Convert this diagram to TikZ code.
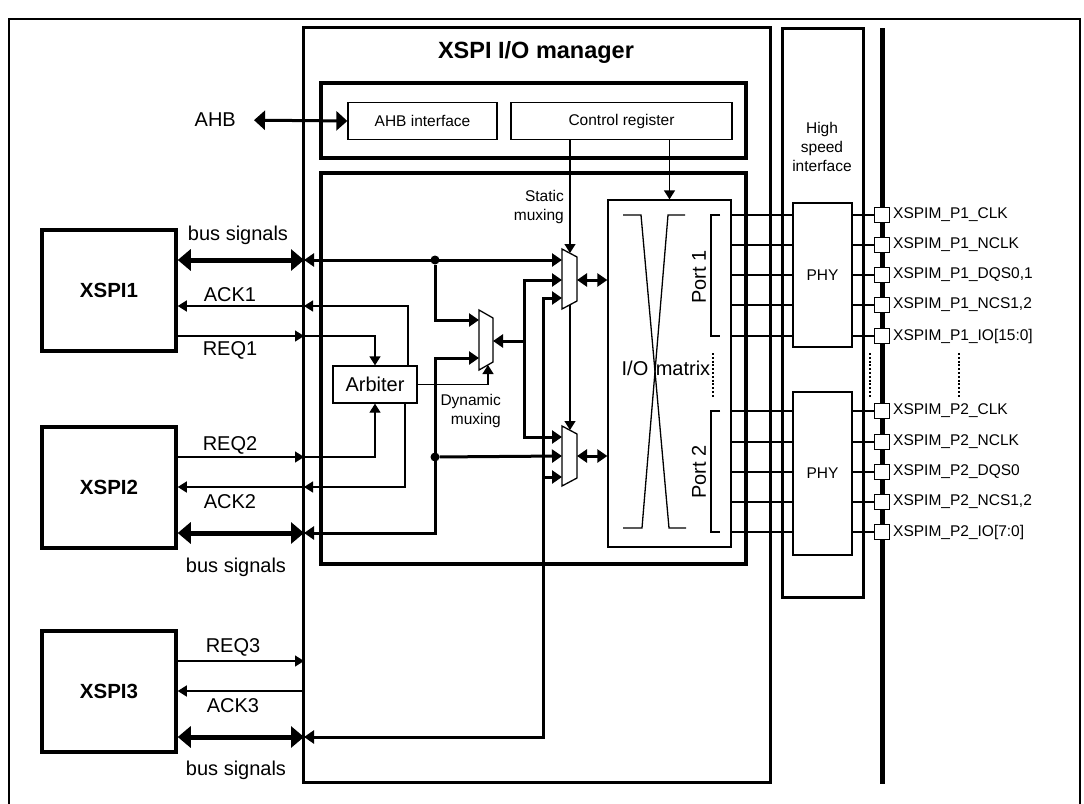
\documentclass[tikz,border=0pt]{standalone}
\usepackage{fontspec}
\setmainfont{Liberation Sans}
\usetikzlibrary{arrows.meta,positioning,calc}

\begin{document}
\begin{tikzpicture}[x=1pt,y=-1pt,
	big/.style={font=\fontsize{20}{22}\selectfont,inner sep=1pt},
	small/.style={font=\fontsize{15.5}{19}\selectfont,inner sep=1pt,align=center},
	thinbox/.style={draw,line width=1.3pt,inner sep=0pt},
	thickbox/.style={draw,line width=3pt,inner sep=0pt},
	xspi/.style={draw,line width=3.5pt,minimum width=134pt,minimum height=121pt,font=\bfseries\fontsize{20.5}{22}\selectfont},
	sig/.style={line width=1.3pt,-{Triangle[length=9pt,width=11pt]}},
	ibus/.style={line width=3pt,-{Triangle[length=10pt,width=13pt]}},
	ibus2/.style={line width=3pt,{Triangle[length=10pt,width=13pt]}-{Triangle[length=10pt,width=13pt]}},
	bus/.style={line width=5pt,{Triangle[length=13pt,width=21pt]}-{Triangle[length=13pt,width=21pt]}},
	mux/.style={draw,line width=1.3pt,fill=white},
	pad/.style={draw,line width=1.3pt,fill=white,minimum size=15pt,inner sep=0pt},
	pin/.style={line width=1.3pt},
	dots/.style={line width=2.5pt,dash pattern=on 2pt off 1.8pt},
	jn/.style={circle,fill,inner sep=0pt,minimum size=9pt}]
\useasboundingbox (0,0) rectangle (1084,803);
\draw[line width=1.8pt] (9,815) -- (9,19) -- (1080,19) -- (1080,815);

% manager and its blocks
\node[thickbox,minimum width=467pt,minimum height=755pt] (mgr) at (536.5,404.5) {};
\node[font=\bfseries\fontsize{23.5}{26}\selectfont] (mgrt) at (536,52) {XSPI I/O manager};
\node[draw,line width=4pt,minimum width=425pt,minimum height=75pt] (cfg) at (533.5,120.5) {};
\node[draw,line width=4pt,minimum width=425pt,minimum height=391pt] (core) at (533.5,368.5) {};
\node[thinbox,small,minimum width=149pt,minimum height=37pt] (ahbif) at (422.5,121) {AHB interface};
\node[thinbox,small,minimum width=221pt,minimum height=37pt] (creg) at (621.5,121) {Control register};
\node[big,anchor=east] (ahb) at (237,120) {AHB};
\draw[line width=3pt,{Triangle[length=11pt,width=19pt]}-{Triangle[length=11pt,width=19pt]},shorten <=17pt] (ahb.east) -- (ahbif.west);

\node[thickbox,minimum width=81pt,minimum height=569pt] (hsi) at (822.5,312.5) {};
\node[small] (hsit) at (822,147) {High\\speed\\interface};
\node[thinbox,small,minimum width=59pt,minimum height=144pt] (phy1) at (822.5,275) {PHY};
\node[thinbox,small,minimum width=59pt,minimum height=163pt] (phy2) at (822.5,473.5) {PHY};
\coordinate (railt) at (882,28);
\coordinate (railb) at (882,784);
\draw[line width=5pt] (railt) -- (railb);

% XSPI instances
\node[xspi] (xspi1) at (109,290.5) {XSPI1};
\node[xspi] (xspi2) at (109,487.5) {XSPI2};
\node[xspi] (xspi3) at (109,691.5) {XSPI3};
\coordinate (bus1) at (304,260);
\coordinate (ack1) at (304,306);
\coordinate (req1) at (304,336);
\coordinate (req2) at (304,457);
\coordinate (ack2) at (304,487);
\coordinate (bus2) at (304,533);
\coordinate (req3) at (304,661);
\coordinate (ack3) at (304,691);
\coordinate (bus3) at (304,737);

\draw[bus] (xspi1.east |- bus1) -- (bus1);
\draw[sig] (ack1) -- (xspi1.east |- ack1);
\draw[sig] (xspi1.east |- req1) -- (req1);
\draw[sig] (xspi2.east |- req2) -- (req2);
\draw[sig] (ack2) -- (xspi2.east |- ack2);
\draw[bus] (xspi2.east |- bus2) -- (bus2);
\draw[sig] (xspi3.east |- req3) -- (req3);
\draw[sig] (ack3) -- (xspi3.east |- ack3);
\draw[bus] (xspi3.east |- bus3) -- (bus3);

\node[big] (lbus1) at (238,235) {bus signals};
\node[big] (lack1) at (230,295) {ACK1};
\node[big] (lreq1) at (230,350) {REQ1};
\node[big] (lreq2) at (230,445) {REQ2};
\node[big] (lack2) at (230,502) {ACK2};
\node[big] (lbus2) at (236,567) {bus signals};
\node[big] (lreq3) at (233,647) {REQ3};
\node[big] (lack3) at (233,706) {ACK3};
\node[big] (lbus3) at (236,770) {bus signals};

% arbiter
\node[thinbox,big,minimum width=84pt,minimum height=37pt] (arb) at (375,384.5) {Arbiter};
\coordinate (arbA) at (408,366);
\coordinate (arbB) at (405,403);
\draw[sig] (req1) -| (arb.north);
\draw[sig] (arbA) |- (ack1);
\draw[sig] (req2) -| (arb.south);
\draw[sig] (arbB) |- (ack2);

% dynamic mux
\draw[mux] (479,310) -- (493,318) -- (493,362) -- (479,370) -- cycle;
\coordinate (dmi1) at (479,320);
\coordinate (dmi2) at (479,358);
\coordinate (dmo) at (493,341);
\coordinate (dms) at (488,365);
\node[small,align=right,anchor=east] (dyn) at (502,411) {Dynamic\\muxing};

% static muxes
\draw[mux] (562,249) -- (577,257) -- (577,301) -- (562,309) -- cycle;
\draw[mux] (562,426) -- (577,434) -- (577,478) -- (562,486) -- cycle;
\coordinate (m1i1) at (562,260);
\coordinate (m1i2) at (562,280);
\coordinate (m1i3) at (562,298);
\coordinate (m1o) at (577,280);
\coordinate (m1s) at (570,253);
\coordinate (m1b) at (570,305);
\coordinate (m2i1) at (562,437);
\coordinate (m2i2) at (562,456);
\coordinate (m2i3) at (562,477);
\coordinate (m2o) at (577,456);
\coordinate (m2s) at (570,430);
\node[small,align=right,anchor=east] (stat) at (565,207) {Static\\muxing};

% bus routing
\node[jn] (j1) at (435,260) {};
\node[jn] (j2) at (435,457) {};
\coordinate (k1) at (524,280);
\coordinate (k2) at (435,358);
\coordinate (k3) at (543,298);
\draw[ibus2] (bus1) -- (m1i1);
\draw[ibus] (j1) |- (dmi1);
\draw[ibus2] (bus2) -| (k2) -- (dmi2);
\draw[ibus] (j2) -- (m2i2);
\draw[ibus2] (bus3) -| (k3) -- (m1i3);
\draw[ibus] (m2i3 -| k3) -- (m2i3);
\draw[ibus2] (m1i2) -- (k1) |- (m2i1);
\draw[ibus] (dmo -| k1) -- (dmo);
\draw[sig] (arb.east) -| (dms);
\draw[sig] (creg.south -| m1s) -- (m1s);
\draw[sig] (m1b) -- (m2s);

% I/O matrix
\node[thinbox,minimum width=123pt,minimum height=347pt] (iom) at (669.5,373.5) {};
\draw[sig] (creg.south -| iom.north) -- (iom.north);
\draw[ibus2] (m1o) -- (m1o -| iom.west);
\draw[ibus2] (m2o) -- (m2o -| iom.west);
\draw[pin] (623,215) -- (641,215) -- (669,528) -- (686,528);
\draw[pin] (685,215) -- (668,215) -- (642,528) -- (623,528);
\node[big] (iot) at (635,368) {I/O};
\node[big] (mxt) at (683,368) {matrix};
\draw[pin] (720,215) -| (711,336) -- (720,336);
\draw[pin] (720,411) -| (711,532) -- (720,532);
\node[big,rotate=90] (p1) at (699,277) {Port 1};
\node[big,rotate=90] (p2) at (699,472) {Port 2};

% pins
\foreach \y/\t in {215/{XSPIM\_P1\_CLK},245/{XSPIM\_P1\_NCLK},275/{XSPIM\_P1\_DQS0,1},305/{XSPIM\_P1\_NCS1,2},336/{XSPIM\_P1\_IO[15:0]}}{
	\node[pad] (pad\y) at (882,\y) {};
	\draw[pin] (iom.east |- pad\y) -- (phy1.west |- pad\y);
	\draw[pin] (phy1.east |- pad\y) -- (pad\y.west);
	\node[small,anchor=west] (lab\y) at (892,\y) {\t};
}
\foreach \y/\t in {411/{XSPIM\_P2\_CLK},442/{XSPIM\_P2\_NCLK},472/{XSPIM\_P2\_DQS0},502/{XSPIM\_P2\_NCS1,2},532/{XSPIM\_P2\_IO[7:0]}}{
	\node[pad] (pad\y) at (882,\y) {};
	\draw[pin] (iom.east |- pad\y) -- (phy2.west |- pad\y);
	\draw[pin] (phy2.east |- pad\y) -- (pad\y.west);
	\node[small,anchor=west] (lab\y) at (892,\y) {\t};
}
\foreach \x in {713,870,959}
	\draw[dots] (\x,353) -- (\x,397);
\end{tikzpicture}
\end{document}
